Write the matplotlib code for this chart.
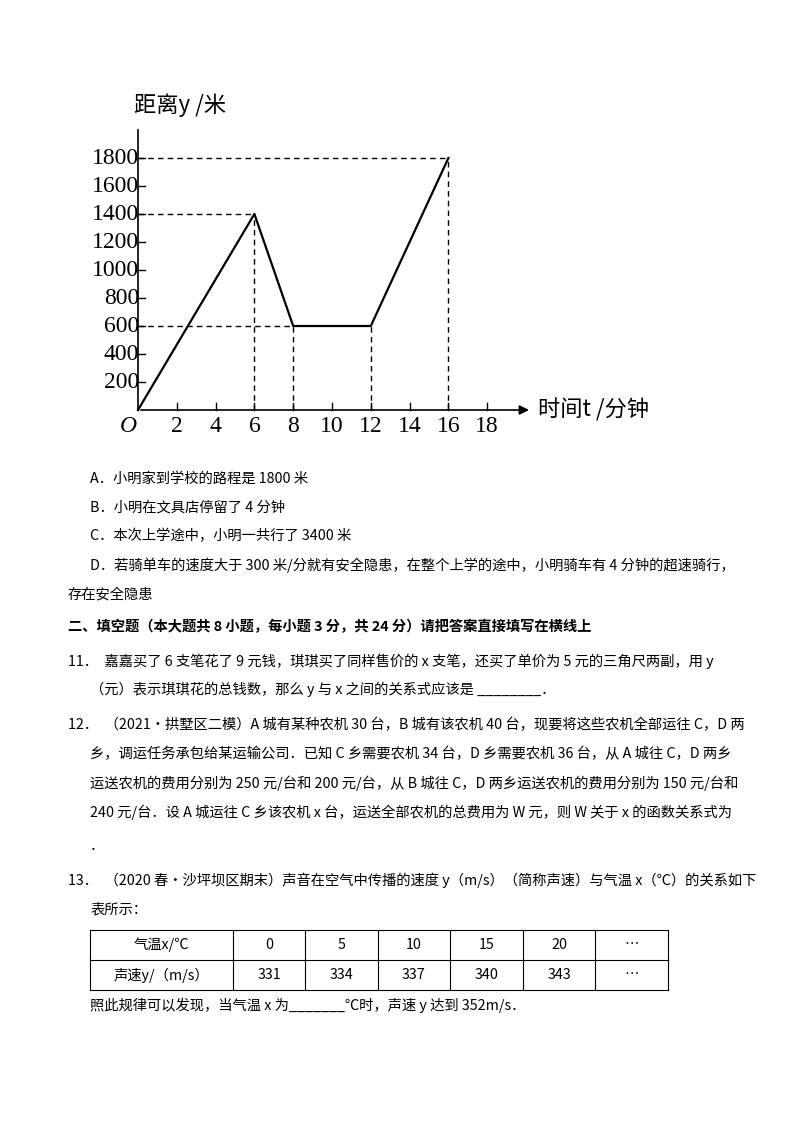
import matplotlib
matplotlib.use("Agg")
import matplotlib.pyplot as plt

t = [0, 6, 8, 12, 16]
dist = [0, 1400, 600, 600, 1800]
xticks = [2, 4, 6, 8, 10, 12, 14, 16, 18]
yticks = [200, 400, 600, 800, 1000, 1200, 1400, 1600, 1800]
table_head = ["气温x/℃", "0", "5", "10", "15", "20", "…"]
table_row = ["声速y/（m/s）", "331", "334", "337", "340", "343", "…"]

W, H = 800, 1132
fig = plt.figure(figsize=(8, 11.32), dpi=100)
CJK = ["Noto Sans CJK SC", "DejaVu Sans"]
SER = ["Liberation Serif", "Noto Sans CJK SC"]

ax = fig.add_axes([118.6 / W, (H - 438) / H, 426.8 / W, 329 / H])
ax.set_xlim(-1, 21)
ax.set_ylim(-200, 2150)
ax.axis("off")
ax.annotate("", xy=(20.3, 0), xytext=(0, 0),
            arrowprops=dict(arrowstyle="-|>", color="black", lw=1.2, mutation_scale=14))
ax.plot([0, 0], [0, 2000], color="black", lw=1.2)
ax.plot(t, dist, color="black", lw=1.6)
dk = dict(color="black", lw=1.0, ls=(0, (4, 3)))
ax.plot([0, 6], [1400, 1400], **dk); ax.plot([6, 6], [0, 1400], **dk)
ax.plot([0, 8], [600, 600], **dk); ax.plot([8, 8], [0, 600], **dk)
ax.plot([12, 12], [0, 600], **dk)
ax.plot([0, 16], [1800, 1800], **dk); ax.plot([16, 16], [0, 1800], **dk)
for v in yticks:
    ax.plot([0, 0.35], [v, v], color="black", lw=1.0)
    ax.text(0.05, v, str(v), ha="right", va="center", fontsize=17, family=SER)
for v in xticks:
    ax.plot([v, v], [0, 50], color="black", lw=1.0)
    ax.text(v, -120, str(v), ha="center", va="center", fontsize=17, family=SER)
ax.text(-0.5, -120, "O", ha="center", va="center", fontsize=17, family=SER, style="italic")
ax.text(20.6, 0, "时间t /分钟", ha="left", va="center", fontsize=16, family=CJK)
ax.text(-0.2, 2180, "距离y /米", ha="left", va="center", fontsize=16, family=CJK)

def T(x, y, s, **kw):
    fig.text(x / W, 1 - y / H, s, fontsize=10.3, family=CJK, va="center", ha="left", **kw)

T(90, 479, "A．小明家到学校的路程是 1800 米")
T(90, 507, "B．小明在文具店停留了 4 分钟")
T(90, 536, "C．本次上学途中，小明一共行了 3400 米")
T(90, 565, "D．若骑单车的速度大于 300 米/分就有安全隐患，在整个上学的途中，小明骑车有 4 分钟的超速骑行，")
T(68, 594, "存在安全隐患")
T(68, 627, "二、填空题（本大题共 8 小题，每小题 3 分，共 24 分）请把答案直接填写在横线上", weight="bold")
T(68, 661, "11．  嘉嘉买了 6 支笔花了 9 元钱，琪琪买了同样售价的 x 支笔，还买了单价为 5 元的三角尺两副，用 y")
T(90, 689, "（元）表示琪琪花的总钱数，那么 y 与 x 之间的关系式应该是 ________．")
T(68, 725, "12．  （2021•拱墅区二模）A 城有某种农机 30 台，B 城有该农机 40 台，现要将这些农机全部运往 C，D 两")
T(90, 754, "乡，调运任务承包给某运输公司．已知 C 乡需要农机 34 台，D 乡需要农机 36 台，从 A 城往 C，D 两乡")
T(90, 783, "运送农机的费用分别为 250 元/台和 200 元/台，从 B 城往 C，D 两乡运送农机的费用分别为 150 元/台和")
T(90, 812, "240 元/台．设 A 城运往 C 乡该农机 x 台，运送全部农机的总费用为 W 元，则 W 关于 x 的函数关系式为")
T(90, 846, "．")
T(68, 880, "13．  （2020 春•沙坪坝区期末）声音在空气中传播的速度 y（m/s）（简称声速）与气温 x（℃）的关系如下")
T(90, 909, "表所示：")
T(90, 1005, "照此规律可以发现，当气温 x 为_______℃时，声速 y 达到 352m/s．")

cols = [90, 233, 305, 378, 450, 523, 595, 668]
rows = [930, 960, 990]
ov = fig.add_axes([0, 0, 1, 1]); ov.set_xlim(0, W); ov.set_ylim(H, 0); ov.axis("off")
for r in rows:
    ov.plot([cols[0], cols[-1]], [r, r], color="black", lw=0.8)
for c in cols:
    ov.plot([c, c], [rows[0], rows[-1]], color="black", lw=0.8)
for i in range(7):
    cx = (cols[i] + cols[i + 1]) / 2
    fig.text(cx / W, 1 - 945 / H, table_head[i], ha="center", va="center", fontsize=10.3, family=CJK)
    fig.text(cx / W, 1 - 975 / H, table_row[i], ha="center", va="center", fontsize=10.3, family=CJK)

fig.savefig("out.png", dpi=100, facecolor="white")
